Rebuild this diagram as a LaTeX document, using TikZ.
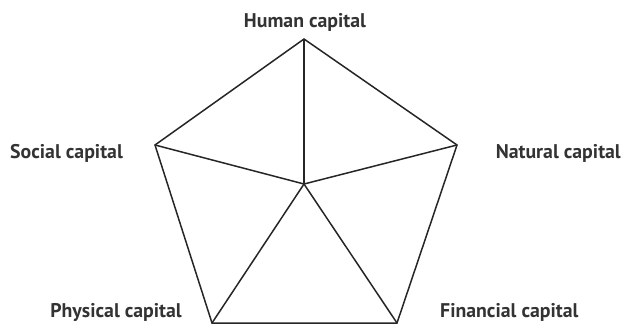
\documentclass[tikz,border=0pt]{standalone}
\usepackage{fontspec}
\setmainfont{PT Sans}
\usetikzlibrary{positioning}

\begin{document}
\begin{tikzpicture}[x=1pt, y=-1pt,
        edge/.style={
            draw=black!85, line width=1.5pt, line join=miter
        },
        capital/.style={
            font=\fontsize{19.8}{22}\selectfont\bfseries, text=black!80, inner sep=0pt
        }
    ]
        \useasboundingbox (0,0) rectangle (623,327);

        % ----------------------------------------------------
        % Pentagon corners and hub
        % ----------------------------------------------------
        \coordinate (hub) at (304,184);
        \coordinate (human) at (304,39);
        \coordinate (natural) at (457,145);
        \coordinate (financial) at (397,323);
        \coordinate (physical) at (212,323);
        \coordinate (social) at (155,145);

        \draw[edge] (human) -- (natural) -- (financial) -- (physical) -- (social) -- cycle;
        \foreach \corner in {human, natural, financial, physical, social}
            \draw[edge] (hub) -- (\corner);

        % ----------------------------------------------------
        % Labels
        % ----------------------------------------------------
        \node[capital, anchor=base] (humanlbl) at (305,27) {Human capital};
        \node[capital, anchor=base west] (sociallbl) at (10,158) {Social capital};
        \node[capital, anchor=base east] (naturallbl) at (621,158) {Natural capital};
        \node[capital, anchor=base east] (physicallbl) at (182,317) {Physical capital};
        \node[capital, anchor=base west] (financiallbl) at (440,317) {Financial capital};

    \end{tikzpicture}
\end{document}
